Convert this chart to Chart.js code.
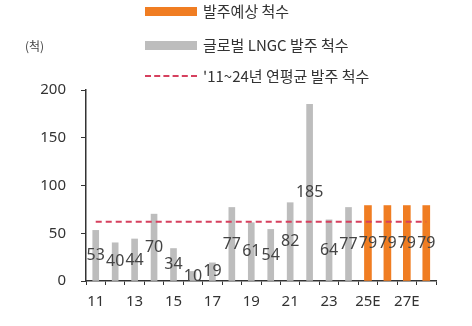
<!DOCTYPE html>
<html>
<head>
<meta charset="utf-8">
<script src="https://cdn.jsdelivr.net/npm/chart.js@4.4.1/dist/chart.umd.min.js"></script>
<style>
  html, body { margin: 0; padding: 0; background: #fff; }
  #wrap { position: relative; width: 472px; height: 326px; font-family: "Noto Sans CJK KR", "Noto Sans", sans-serif; color: #333; }
  #mycanvas { position: absolute; left: 0; top: 0; }
  .unit { position: absolute; left: 25px; top: 37px; font-size: 12px; color: #444; }
  .leg { position: absolute; left: 145px; font-size: 15px; line-height: 20px; white-space: nowrap; }
  .leg span { position: absolute; left: 58px; top: 0; }
  .box { position: absolute; left: 0; width: 52px; height: 9px; }
  .dash { position: absolute; left: 0; top: 9px; width: 52px; border-top: 2px dashed #d6405e; }
</style>
</head>
<body>
<div id="wrap">
  <canvas id="mycanvas" width="472" height="326"></canvas>
  <div class="unit">(척)</div>
  <div class="leg" style="top:1px"><div class="box" style="top:6px;background:#f07d22"></div><span>발주예상 척수</span></div>
  <div class="leg" style="top:35px"><div class="box" style="top:6px;background:#bdbdbd"></div><span>글로벌 LNGC 발주 척수</span></div>
  <div class="leg" style="top:66px"><div class="dash"></div><span>'11~24년 연평균 발주 척수</span></div>
</div>
<script>
var years = ["11", "12", "13", "14", "15", "16", "17", "18", "19", "20", "21", "22", "23", "24", "25E", "26E", "27E", "28E"];
var orders = [53, 40, 44, 70, 34, 10, 19, 77, 61, 54, 82, 185, 64, 77, null, null, null, null];
var forecast = [null, null, null, null, null, null, null, null, null, null, null, null, null, null, 79, 79, 79, 79];
var yTicks = [0, 50, 100, 150, 200];

// yearly average over '11~'24
var sum = 0, n = 0;
for (var i in orders) {
  if (orders[i] !== null) { sum += orders[i]; n++; }
}
var avg = Math.round(sum / n * 10) / 10;
var avgLine = [];
for (var i in years) avgLine.push(avg);

// value labels sit in the middle of each bar
var barLabels = {
  id: "barLabels",
  afterDatasetsDraw: function(chart) {
    var ctx = chart.ctx;
    var y = chart.scales.y;
    ctx.save();
    ctx.font = "16px 'Noto Sans'";
    ctx.fillStyle = "#444";
    ctx.textAlign = "center";
    ctx.textBaseline = "middle";
    [0, 1].forEach(function(d) {
      var meta = chart.getDatasetMeta(d);
      chart.data.datasets[d].data.forEach(function(v, i) {
        if (v === null) return;
        ctx.fillText(v, meta.data[i].x, y.getPixelForValue(v / 2));
      });
    });
    ctx.restore();
  }
};

var chartdata = {
  labels: years,
  datasets: [
    {
      label: "발주예상 척수",
      type: "bar",
      backgroundColor: "#f07d22",
      barThickness: 7,
      grouped: false,
      data: forecast,
      order: 2
    },
    {
      label: "글로벌 LNGC 발주 척수",
      type: "bar",
      backgroundColor: "#bdbdbd",
      barThickness: 6,
      grouped: false,
      data: orders,
      order: 2
    },
    {
      label: "'11~24년 연평균 발주 척수",
      type: "line",
      borderColor: "#d6405e",
      borderWidth: 2,
      borderDash: [6, 4],
      pointRadius: 0,
      fill: false,
      data: avgLine,
      order: 1
    }
  ]
};

var ctx = document.getElementById("mycanvas");

var BarGraph = new Chart(ctx, {
  type: "bar",
  data: chartdata,
  plugins: [barLabels],
  options: {
    responsive: false,
    animation: false,
    layout: { padding: { left: 0, right: 36, top: 90, bottom: 0 } },
    plugins: {
      legend: { display: false },
      tooltip: { enabled: false }
    },
    scales: {
      x: {
        offset: true,
        afterFit: function(scale) { scale.height = 45; },
        border: { color: "#333", width: 1.5 },
        grid: { display: true, drawOnChartArea: false, drawTicks: true, tickLength: 4, color: "#333", offset: true },
        ticks: {
          autoSkip: false,
          maxRotation: 0,
          padding: 8,
          color: "#333",
          font: { family: "Noto Sans", size: 15 },
          callback: function(val, i) { return i % 2 === 0 ? years[i] : ""; }
        }
      },
      y: {
        min: 0,
        max: 200,
        afterFit: function(scale) { scale.width = 86; },
        afterBuildTicks: function(scale) {
          scale.ticks = yTicks.map(function(v) { return { value: v }; });
        },
        border: { color: "#333", width: 1.5 },
        grid: { display: true, drawOnChartArea: false, drawTicks: true, tickLength: 5, color: "#333" },
        ticks: {
          padding: 15,
          color: "#333",
          font: { family: "Noto Sans", size: 15 }
        }
      }
    }
  }
});
</script>
</body>
</html>
